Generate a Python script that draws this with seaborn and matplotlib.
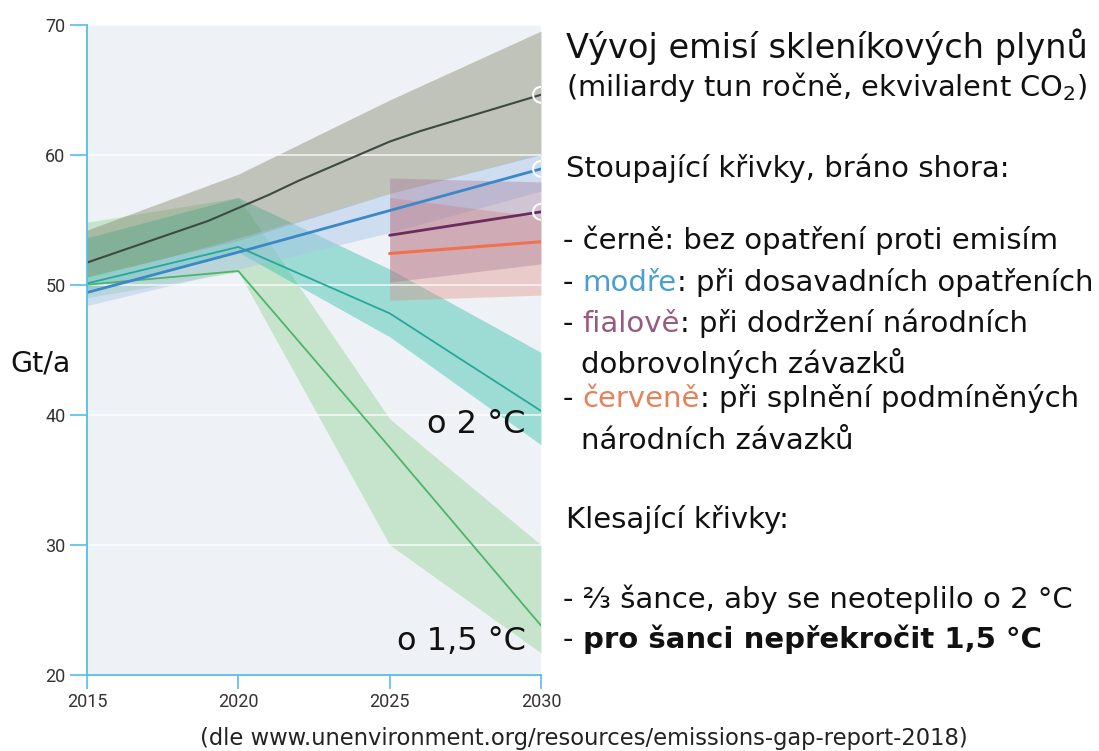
import matplotlib
matplotlib.use('Agg')
import matplotlib.pyplot as plt
import seaborn as sns

# ---------------------------------------------------------------
# data (Gt CO2e per year)
# ---------------------------------------------------------------
no_policy_years = [2015, 2016, 2017, 2018, 2019, 2020, 2021, 2022,
                   2023, 2024, 2025, 2026, 2027, 2028, 2029, 2030]
no_policy = [51.7, 52.5, 53.3, 54.1, 54.9, 55.9, 56.9, 58.0,
             59.0, 60.0, 61.0, 61.8, 62.5, 63.2, 63.9, 64.6]

band_years = [2015, 2020, 2025, 2030]
no_policy_low = [50.6, 53.4, 57.0, 60.0]
no_policy_high = [54.2, 58.5, 64.2, 69.5]

current_policy = [49.4, 52.5, 55.7, 58.9]
current_low = [48.4, 51.2, 54.0, 57.2]
current_high = [50.4, 53.6, 57.0, 60.1]

ndc_years = [2025, 2030]
ndc_uncond = [53.8, 55.6]
ndc_uncond_low = [50.2, 51.6]
ndc_uncond_high = [58.2, 57.9]
ndc_cond = [52.4, 53.3]
ndc_cond_low = [48.8, 49.2]
ndc_cond_high = [56.7, 55.2]

two_deg = [50.1, 52.9, 47.8, 40.3]
two_deg_low = [49.6, 52.5, 46.0, 37.7]
two_deg_high = [53.6, 56.7, 51.2, 44.8]

one_five = [50.0, 51.05, 37.5, 23.8]
one_five_low = [49.0, 51.0, 30.0, 21.7]
one_five_high = [54.8, 56.7, 39.7, 30.0]

x_ticks = [2015, 2020, 2025, 2030]
y_ticks = [20, 30, 40, 50, 60, 70]

# ---------------------------------------------------------------
# figure
# ---------------------------------------------------------------
sns.set_theme(style='darkgrid')
plt.rcParams['font.family'] = ['DejaVu Sans']

W, H = 1099, 751
fig = plt.figure(figsize=(W / 100, H / 100), dpi=100)
fig.patch.set_facecolor('white')
ax = fig.add_axes([87 / W, 1 - 675 / H, (541 - 87) / W, (675 - 24.5) / H])
ax.set_facecolor('#eef2f6')

# uncertainty bands
ax.fill_between(band_years, one_five_low, one_five_high, color='#86cf86', alpha=0.38, lw=0)
ax.fill_between(band_years, two_deg_low, two_deg_high, color='#3cc2ae', alpha=0.45, lw=0)
ax.fill_between(band_years, no_policy_low, no_policy_high, color='#7d7d62', alpha=0.40, lw=0)
ax.fill_between(band_years, current_low, current_high, color='#a9c4e8', alpha=0.45, lw=0)
ax.fill_between(ndc_years, ndc_cond_low, ndc_cond_high, color='#e08070', alpha=0.33, lw=0)
ax.fill_between(ndc_years, ndc_uncond_low, ndc_uncond_high, color='#9b6a8e', alpha=0.33, lw=0)

# central lines
sns.lineplot(x=band_years, y=one_five, ax=ax, color='#4cb56a', lw=1.3)
sns.lineplot(x=band_years, y=two_deg, ax=ax, color='#26a898', lw=1.3)
sns.lineplot(x=no_policy_years, y=no_policy, ax=ax, color='#3c4a42', lw=1.5)
sns.lineplot(x=band_years, y=current_policy, ax=ax, color='#3b87c9', lw=2)
sns.lineplot(x=ndc_years, y=ndc_uncond, ax=ax, color='#6a2c5e', lw=2)
sns.lineplot(x=ndc_years, y=ndc_cond, ax=ax, color='#f07050', lw=2.2)

# open circles at the end of the rising curves
ax.scatter([no_policy_years[-1], band_years[-1], ndc_years[-1]],
           [no_policy[-1], current_policy[-1], ndc_uncond[-1]],
           s=130, facecolors='none', edgecolors='white', linewidths=1.5, zorder=5)

ax.set_xlim(2015, 2030)
ax.set_ylim(20, 70)
ax.set_xticks(x_ticks)
ax.set_yticks(y_ticks)
ax.set_xlabel('')
ax.set_ylabel('')
ax.set_axisbelow('line')
ax.grid(axis='y', color='white', lw=1.2, alpha=0.8)
ax.grid(axis='x', visible=False)

spine_c = '#55bde8'
for side in ['top', 'right']:
    ax.spines[side].set_visible(False)
for side in ['left', 'bottom']:
    ax.spines[side].set_visible(True)
    ax.spines[side].set_color(spine_c)
    ax.spines[side].set_linewidth(1.3)
ax.tick_params(axis='y', left=True, length=12.5, width=1.2, color=spine_c,
               labelsize=13, labelcolor='#333333', pad=3)
ax.tick_params(axis='x', bottom=True, length=10, width=1.2, color=spine_c,
               labelsize=13, labelcolor='#333333', pad=3)
for lbl in ax.get_xticklabels() + ax.get_yticklabels():
    lbl.set_fontfamily('Roboto')

ax.text(2029.5, 38.6, 'o 2 °C', ha='right', va='baseline', fontsize=23, color='#111111')
ax.text(2029.5, 21.9, 'o 1,5 °C', ha='right', va='baseline', fontsize=23, color='#111111')

fig.text(10 / W, 1 - 372 / H, 'Gt/a', fontsize=20.5, color='#111111', va='baseline')

# ---------------------------------------------------------------
# right-hand description
# ---------------------------------------------------------------
renderer = fig.canvas.get_renderer()


def text_width(s, size, weight='normal'):
    # measure with a trailing bar so spaces at the end count
    t = fig.text(0, 0, s + '|', fontsize=size, fontweight=weight)
    b = fig.text(0, 0, '|', fontsize=size, fontweight=weight)
    w = t.get_window_extent(renderer).width - b.get_window_extent(renderer).width
    t.remove()
    b.remove()
    return w


def colored_line(x, y, parts, size=21):
    for s, c, w in parts:
        fig.text(x / W, 1 - y / H, s, color=c, fontsize=size, fontweight=w, va='baseline')
        x += text_width(s, size, w)


ink = '#111111'
blue_t = '#4a9fd0'
purple_t = '#9a5a80'
red_t = '#e8805a'

fig.text(566 / W, 1 - 58 / H, 'Vývoj emisí skleníkových plynů', fontsize=24.2, color=ink, va='baseline')
fig.text(566 / W, 1 - 96 / H, '(miliardy tun ročně, ekvivalent CO$_2$)', fontsize=20.8, color=ink, va='baseline')

colored_line(566, 177, [('Stoupající křivky, bráno shora:', ink, 'normal')])
colored_line(563, 249, [('- černě: bez opatření proti emisím', ink, 'normal')])
colored_line(563, 291, [('- ', ink, 'normal'), ('modře', blue_t, 'normal'),
                        (': při dosavadních opatřeních', ink, 'normal')])
colored_line(563, 332, [('- ', ink, 'normal'), ('fialově', purple_t, 'normal'),
                        (': při dodržení národních', ink, 'normal')])
colored_line(581, 373, [('dobrovolných závazků', ink, 'normal')])
colored_line(563, 407, [('- ', ink, 'normal'), ('červeně', red_t, 'normal'),
                        (': při splnění podmíněných', ink, 'normal')])
colored_line(581, 449, [('národních závazků', ink, 'normal')])
colored_line(566, 528, [('Klesající křivky:', ink, 'normal')])
colored_line(563, 608, [('- ⅔ šance, aby se neoteplilo o 2 °C', ink, 'normal')])
colored_line(563, 648, [('- ', ink, 'normal'), ('pro šanci nepřekročit 1,5 °C', ink, 'bold')])

fig.text(584 / W, 1 - 745 / H, '(dle www.unenvironment.org/resources/emissions-gap-report-2018)',
         fontsize=16.3, color='#222222', ha='center', va='baseline')

fig.savefig('out.png', dpi=100)
